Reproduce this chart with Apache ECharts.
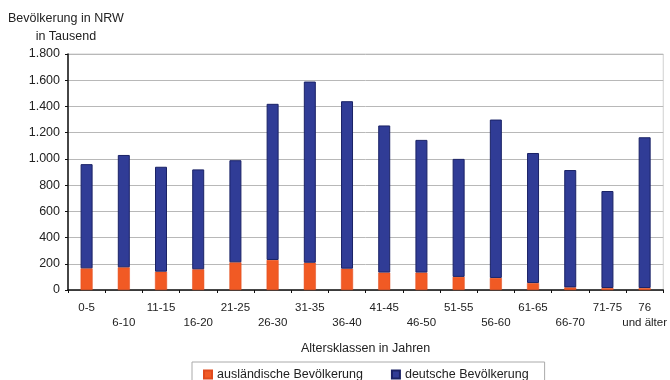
<!DOCTYPE html>
<html>
<head>
<meta charset="utf-8">
<script src="https://cdn.jsdelivr.net/npm/echarts@6/dist/echarts.min.js"></script>
<style>
  html, body { margin: 0; padding: 0; background: #fff; }
  #chart { width: 670px; height: 380px; }
</style>
</head>
<body>
<div id="chart"></div>
<script>
// Altersklassen (Kategorien der x-Achse)
const altersklassen = ['0-5', '6-10', '11-15', '16-20', '21-25', '26-30', '31-35', '36-40',
  '41-45', '46-50', '51-55', '56-60', '61-65', '66-70', '71-75', '76\nund älter'];

// Bevölkerung in Tausend
const auslaendisch = [165, 173, 140, 158, 211, 229, 208, 163, 133, 133, 100, 92, 53, 20, 15, 15];
const deutsch = [795, 857, 800, 762, 779, 1191, 1382, 1277, 1122, 1012, 900, 1208, 992, 895, 740, 1150];

const font = 'Liberation Sans, Arial, sans-serif';
const txt = '#222';

const chart = echarts.init(document.getElementById('chart'), null, { renderer: 'canvas' });

chart.setOption({
  animation: false,
  backgroundColor: '#fff',
  textStyle: { fontFamily: font },
  grid: {
    left: 68, right: 6, top: 54, bottom: 90,
    show: true, borderColor: '#d0d0d0', borderWidth: 1
  },
  graphic: [{
    type: 'text',
    left: 8, top: 10,
    style: {
      text: 'Bevölkerung in NRW\nin Tausend',
      fill: txt, font: '12.5px ' + font,
      textAlign: 'center', lineHeight: 18,
      x: 59
    }
  }],
  legend: {
    left: 192, top: 362,
    padding: [6, 16, 6, 11],
    borderColor: '#aaa', borderWidth: 1,
    itemWidth: 8, itemHeight: 8, itemGap: 28,
    icon: 'rect',
    textStyle: { fontFamily: font, fontSize: 12.5, color: txt },
    data: ['ausländische Bevölkerung', 'deutsche Bevölkerung']
  },
  xAxis: {
    type: 'category',
    data: altersklassen,
    name: 'Altersklassen in Jahren',
    nameLocation: 'middle',
    nameGap: 52,
    nameTextStyle: { fontFamily: font, fontSize: 12.5, color: txt },
    axisLine: { lineStyle: { color: '#111', width: 1.5 } },
    axisTick: { show: true, length: 3, lineStyle: { color: '#111' } },
    axisLabel: {
      interval: 0,
      margin: 10,
      fontFamily: font, fontSize: 11.5, color: txt,
      lineHeight: 15,
      formatter: (v, i) => (i % 2 === 1 && i !== altersklassen.length - 1) ? '\n' + v : v
    }
  },
  yAxis: {
    type: 'value',
    min: 0, max: 1800, interval: 200,
    axisLine: { show: true, lineStyle: { color: '#111', width: 1.5 } },
    axisTick: { show: true, length: 3, lineStyle: { color: '#111' } },
    splitLine: { lineStyle: { color: '#b8b8b8', width: 1 } },
    axisLabel: {
      margin: 8,
      fontFamily: font, fontSize: 12.5, color: txt,
      formatter: v => String(v).replace(/\B(?=(\d{3})+(?!\d))/g, '.')
    }
  },
  series: [
    {
      name: 'ausländische Bevölkerung',
      type: 'bar', stack: 'bev',
      barWidth: 12,
      data: auslaendisch,
      itemStyle: { color: '#f15a24', borderColor: '#e04a1c', borderWidth: 0.5 }
    },
    {
      name: 'deutsche Bevölkerung',
      type: 'bar', stack: 'bev',
      barWidth: 12,
      data: deutsch,
      itemStyle: { color: '#303c96', borderColor: '#1a2266', borderWidth: 1 }
    }
  ]
});
</script>
</body>
</html>
